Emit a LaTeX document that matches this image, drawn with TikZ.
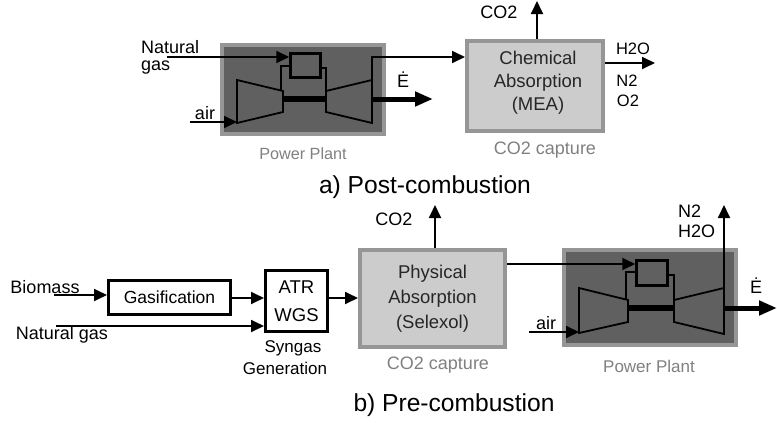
\documentclass[tikz,border=0pt]{standalone}
\usepackage{fontspec}
\setmainfont{Liberation Sans}
\usetikzlibrary{arrows.meta}
\definecolor{plantfill}{HTML}{606060}
\definecolor{plantedge}{HTML}{969696}
\definecolor{capturefill}{HTML}{CCCCCC}
\definecolor{capturetext}{HTML}{808080}
\tikzset{
	flow/.style={line width=1.8pt, -{Triangle[length=13pt, width=12pt]}},
	power/.style={line width=5pt, -{Triangle[length=18pt, width=14pt]}},
	pipe/.style={line width=1.8pt},
	plantbox/.style={draw=plantedge, fill=plantfill, line width=4pt, minimum width=162pt},
	capturebox/.style={draw=plantedge, fill=capturefill, line width=4pt, align=center, text=black!85},
	unitbox/.style={draw, line width=3pt, align=center, font=\fontsize{17.5}{28}\selectfont},
	burnerbox/.style={draw, line width=2.5pt, minimum width=30pt, minimum height=24pt},
	machine/.style={draw, line width=1.8pt, line join=miter},
	label/.style={font=\fontsize{18}{20}\selectfont, align=center, inner sep=0pt},
	graylabel/.style={label, text=capturetext},
	title/.style={font=\fontsize{24.6}{28}\selectfont, inner sep=0pt}
}
\begin{document}
\begin{tikzpicture}[x=1pt, y=-1pt]
	\useasboundingbox (0,0) rectangle (777,423);
	% a)
	\node[plantbox, minimum height=89pt] (plantA) at (303,89.5) {};
	\node[burnerbox] (burnerA) at (305.5,65.5) {};
	\draw[machine] (237,80) coordinate (compA) -- (283,91) coordinate (compAout) -- (283,112) coordinate (compAshaft) -- (237,123) coordinate (compAin) -- cycle;
	\draw[machine] (326,91) coordinate (turbAin) -- (372,80) coordinate (turbAout) -- (372,123) coordinate (turbAend) -- (326,112) -- cycle;
	\coordinate (shaftAl) at (282,99);
	\coordinate (shaftAr) at (326,99);
	\draw[line width=6pt] (shaftAl) -- (shaftAr);
	\draw[pipe] (burnerA.west |- 0,66) -- (281,66) -- (281,91);
	\draw[pipe] (burnerA.east |- 0,68) -- (326,68) -- (turbAin);
	\node[capturebox, minimum width=136pt, minimum height=90pt, font=\fontsize{18.5}{23}\selectfont] (captureA) at (535,86) {};
	\node[capturebox, draw=none, fill=none, inner sep=0pt, font=\fontsize{18.5}{23}\selectfont] (captureAtext) at (538,83) {Chemical\\Absorption\\(MEA)};
	\coordinate (gasA) at (167,57);
	\coordinate (airA) at (190,122);
	\coordinate (elecA) at (372,99);
	\coordinate (eoutA) at (433,99);
	\coordinate (co2A) at (537,1);
	\coordinate (ventA) at (655,63);
	\draw[flow] (gasA) -- (burnerA.west |- gasA);
	\draw[flow] (airA) -- (compAin |- airA);
	\draw[flow] (turbAout) -- (372,57) -- (captureA.west |- 0,57);
	\draw[power] (elecA) -- (eoutA);
	\draw[flow] (captureA.north -| co2A) -- (co2A);
	\draw[flow] (captureA.east |- ventA) -- (ventA);
	\node[label, align=left, anchor=west, font=\fontsize{18}{17}\selectfont] (fuelA) at (141,57) {Natural\\gas};
	\node[label] (airtextA) at (205,113) {air};
	\node[label] (edotA) at (403,80) {\.E};
	\node[graylabel, font=\fontsize{16.2}{18}\selectfont] (plantlabelA) at (303,154) {Power Plant};
	\node[label] (co2textA) at (499,12) {CO2};
	\node[label, font=\fontsize{16.5}{18}\selectfont] (h2oA) at (633,49) {H2O};
	\node[label, font=\fontsize{16.5}{18}\selectfont] (n2A) at (627,81) {N2};
	\node[label, font=\fontsize{16.5}{18}\selectfont] (o2A) at (628,101) {O2};
	\node[graylabel] (capturelabelA) at (545,150) {CO2 capture};
	\node[title] (titleA) at (425,187) {a) Post-combustion};
	% b)
	\node[unitbox, minimum width=122pt, minimum height=34pt] (gasifier) at (169.5,297.5) {Gasification};
	\node[unitbox, minimum width=62pt, minimum height=61pt, font=\fontsize{18.5}{28}\selectfont] (reformer) at (296.5,301) {ATR\\WGS};
	\node[capturebox, minimum width=145pt, minimum height=97pt, font=\fontsize{18.5}{25}\selectfont] (captureB) at (432.5,298.5) {Physical\\Absorption\\(Selexol)};
	\node[plantbox, minimum width=172pt, minimum height=95pt] (plantB) at (650,297.5) {};
	\node[burnerbox, minimum width=31pt, minimum height=25pt] (burnerB) at (652,273) {};
	\draw[machine] (579,288) -- (628,300) coordinate (compBout) -- (628,322) -- (579,333) coordinate (compBin) -- cycle;
	\draw[machine] (674,300) coordinate (turbBin) -- (724,288) coordinate (turbBout) -- (724,334) -- (674,322) -- cycle;
	\coordinate (shaftBl) at (627,308);
	\coordinate (shaftBr) at (674,308);
	\draw[line width=6pt] (shaftBl) -- (shaftBr);
	\draw[pipe] (burnerB.west |- 0,272) -- (626,272) -- (626,300);
	\draw[pipe] (burnerB.east |- 0,275) -- (674,275) -- (turbBin);
	\coordinate (biomassin) at (54,295);
	\coordinate (gasB) at (56,326);
	\coordinate (co2B) at (435,205);
	\coordinate (ventB) at (724,205);
	\coordinate (airB) at (529,332);
	\coordinate (elecB) at (724,308);
	\coordinate (eoutB) at (777,308);
	\draw[flow] (biomassin) -- (gasifier.west |- biomassin);
	\draw[flow] (gasB) -- (reformer.west |- gasB);
	\draw[flow] (gasifier.east |- 0,298) -- (reformer.west |- 0,298);
	\draw[flow] (reformer.east |- 0,298) -- (captureB.west |- 0,298);
	\draw[flow] (captureB.north -| co2B) -- (co2B);
	\draw[flow] (captureB.east |- 0,264) -- (burnerB.west |- 0,264);
	\draw[flow] (airB) -- (compBin |- airB);
	\draw[flow] (turbBout) -- (ventB);
	\draw[power] (elecB) -- (eoutB);
	\node[label] (biomasstext) at (45,287) {Biomass};
	\node[label] (fuelB) at (62,335) {Natural gas};
	\node[label, font=\fontsize{17}{18}\selectfont] (syngas) at (293,348) {Syngas};
	\node[label, font=\fontsize{17}{18}\selectfont] (generation) at (285,368.5) {Generation};
	\node[label] (co2textB) at (394,219) {CO2};
	\node[label] (airtextB) at (546,323) {air};
	\node[label, align=left, anchor=west, font=\fontsize{18}{20}\selectfont] (exhaustB) at (678,221) {N2\\H2O};
	\node[label] (edotB) at (756,286) {\.E};
	\node[graylabel] (capturelabelB) at (438,365) {CO2 capture};
	\node[graylabel, font=\fontsize{17}{18}\selectfont] (plantlabelB) at (649,366) {Power Plant};
	\node[title] (titleB) at (454,405) {b) Pre-combustion};
\end{tikzpicture}
\end{document}
